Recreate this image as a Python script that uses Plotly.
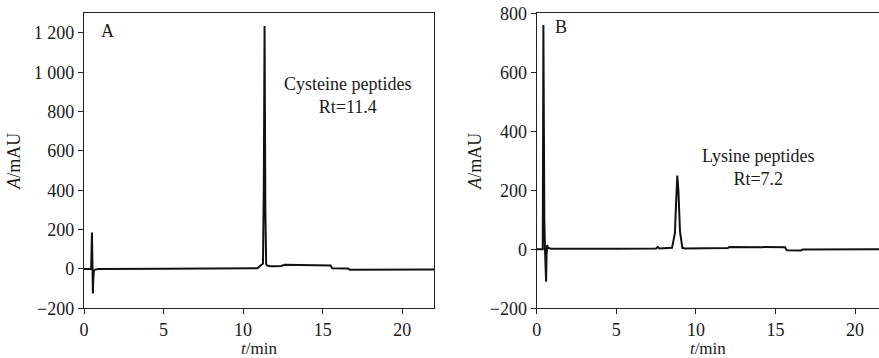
import plotly.graph_objects as go

# Chromatogram A (cysteine peptides)
time_a = [0, 0.45, 0.5, 0.52, 0.54, 0.56, 0.58, 0.62, 0.7, 0.9, 5, 10, 10.9, 11.1, 11.25,
          11.30, 11.35, 11.40, 11.45, 11.5, 11.7, 12.0, 12.4, 12.6, 15.4, 15.5, 15.6, 16.6, 16.7, 22]
abs_a = [0, 0, 185, 20, -30, -125, -60, -10, -3, 0, 1, 2, 4, 18, 28,
         400, 1235, 300, 25, 18, 14, 14, 15, 21, 21, 18, 4, 3, -4, -3]

# Chromatogram B (lysine peptides)
time_b = [0, 0.38, 0.42, 0.44, 0.46, 0.48, 0.52, 0.56, 0.59, 0.62, 0.66, 0.7, 0.9, 5, 7.5,
          7.6, 7.7, 8.5, 8.62, 8.68, 8.75, 8.83, 8.9, 9.0, 9.15, 9.3, 12.0, 12.1, 15.6, 15.7,
          16.6, 16.7, 22]
abs_b = [0, 0, 760, 300, 560, 100, 0, -60, -110, -20, 15, 5, 2, 2, 3,
         8, 3, 5, 40, 55, 150, 250, 200, 60, 5, 3, 4, 8, 7, -3,
         -4, -1, 0]

x_ticks = [0, 5, 10, 15, 20]
y_ticks_a = [-200, 0, 200, 400, 600, 800, 1000, 1200]
y_labels_a = ["\u2212200", "0", "200", "400", "600", "800", "1 000", "1 200"]
y_ticks_b = [-200, 0, 200, 400, 600, 800]
y_labels_b = ["\u2212200", "0", "200", "400", "600", "800"]

W, H = 879, 358
FAM = "Liberation Serif"
INK = "#1a1a1a"
font = dict(family=FAM, color=INK)

fig = go.Figure()
fig.add_trace(go.Scatter(x=time_a, y=abs_a, mode="lines", line=dict(color="#111", width=2),
                         xaxis="x", yaxis="y", showlegend=False))
fig.add_trace(go.Scatter(x=time_b, y=abs_b, mode="lines", line=dict(color="#111", width=2),
                         xaxis="x2", yaxis="y2", showlegend=False))

top = 1 - 13.3 / H
bot = 1 - 308.3 / H
common = dict(showgrid=False, zeroline=False, showline=True, linecolor="#222", linewidth=1.3,
              ticks="outside", ticklen=5, tickwidth=1.3, tickcolor="#222", automargin=False,
              tickfont=dict(size=18, family=FAM, color=INK))
tfont = dict(size=18, family=FAM, color=INK)
xtfont = dict(size=17, family=FAM, color=INK)

fig.update_layout(
    width=W, height=H, margin=dict(l=0, r=0, t=0, b=0, pad=0),
    paper_bgcolor="white", plot_bgcolor="white", font=font,
    xaxis=dict(domain=[84 / W, 434 / W], range=[0, 22], anchor="y", tickvals=x_ticks, mirror=True,
               title=dict(text="<i>t</i>/min", font=xtfont, standoff=5), **common),
    yaxis=dict(domain=[bot, top], range=[-200, 1300], anchor="x", mirror=True,
               tickvals=y_ticks_a, ticktext=y_labels_a,
               title=dict(text="<i>A</i>/mAU", font=tfont, standoff=8), **common),
    xaxis2=dict(domain=[536.7 / W, 1.0], range=[0, 21.5], anchor="y2", tickvals=x_ticks, mirror=True,
                title=dict(text="<i>t</i>/min", font=xtfont, standoff=5), **common),
    yaxis2=dict(domain=[bot, top], range=[-200, 800], anchor="x2", mirror=False,
                tickvals=y_ticks_b, ticktext=y_labels_b,
                title=dict(text="<i>A</i>/mAU", font=tfont, standoff=3), **common),
)

fig.add_annotation(text="A", x=1.45, y=1210, xref="x", yref="y", showarrow=False, font=tfont)
fig.add_annotation(text="Cysteine peptides<br>Rt=11.4", x=16.55, y=880, xref="x", yref="y",
                   showarrow=False, font=tfont)
fig.add_annotation(text="B", x=1.5, y=755, xref="x2", yref="y2", showarrow=False, font=tfont)
fig.add_annotation(text="Lysine peptides<br>Rt=7.2", x=13.87, y=278, xref="x2", yref="y2",
                   showarrow=False, font=tfont)

fig.write_html("out.html", config={"displayModeBar": False},
               post_script="document.body.style.margin='0';document.body.style.padding='0';")
